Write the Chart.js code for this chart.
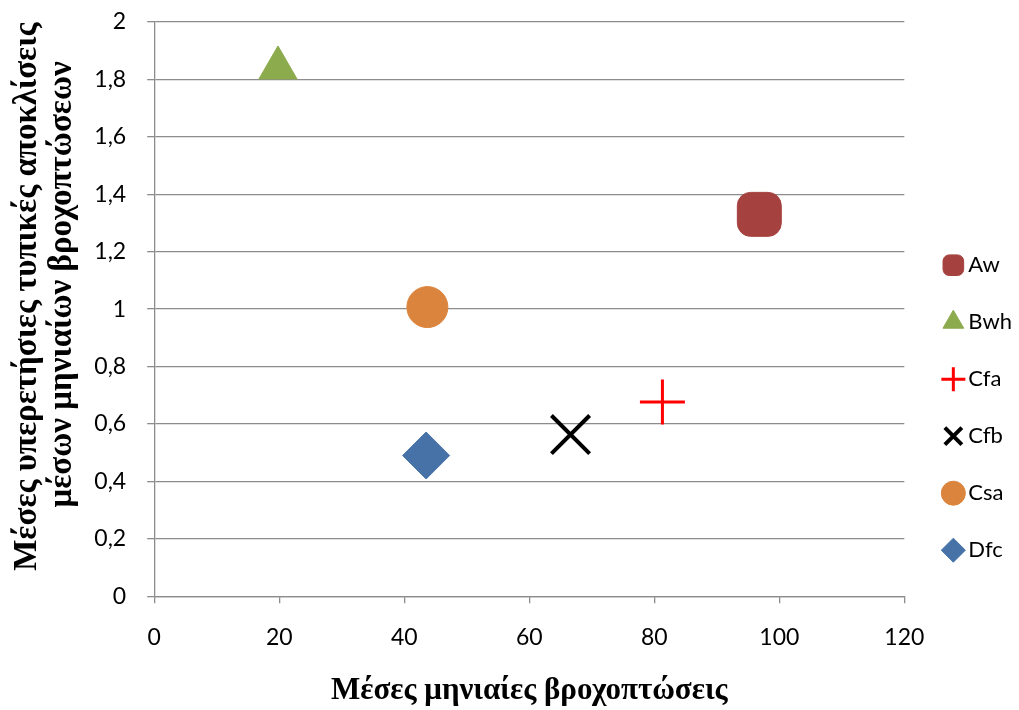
<!DOCTYPE html>
<html lang="el">
<head>
<meta charset="utf-8">
<title>Βροχοπτώσεις</title>
<script src="https://cdn.jsdelivr.net/npm/chart.js@4.4.1/dist/chart.umd.min.js"></script>
<style>
  html, body { margin: 0; padding: 0; background: #fff; }
  canvas { display: block; }
</style>
</head>
<body>
<canvas id="scatterChart" width="1019" height="710"></canvas>
<script>
"use strict";

// climate types and their values
const climates = ["Aw", "Bwh", "Cfa", "Cfb", "Csa", "Dfc"];
const rainfall = [96.8, 19.8, 81.3, 66.6, 43.7, 43.5];
const deviation = [1.33, 1.84, 0.676, 0.563, 1.007, 0.49];

const xTitle = "Μέσες μηνιαίες βροχοπτώσεις";
// leading spaces nudge the rotated lines upward, as in the original
const yTitle = ["   Μέσες υπερετήσιες τυπικές αποκλίσεις", "      μέσων μηνιαίων βροχοπτώσεων"];

// marker looks, one per climate type
const markerStyles = ["rectRounded", "triangle", "cross", "crossRot", "circle", "rectRot"];
const markerColors = ["#A5423F", "#8CAB4D", "#FF0000", "#000000", "#DB843D", "#4672A8"];
const markerSizes = [25.6, 22, 22.5, 27, 20.5, 23.5];
const markerLines = [1, 1, 3, 4, 1, 1];

const gridColor = "#8c8c8c";
const sans = "Lato, 'Liberation Sans', sans-serif";
const serif = "'Liberation Serif', 'DejaVu Serif', serif";
const tickFont = { family: sans, size: 23 };

function commaNumber(value) {
  return String(Number(value.toFixed(1))).replace(".", ",");
}

// push the legend a bit further from the plot, like the original
const legendShift = {
  id: "legendShift",
  afterLayout(chart) {
    chart.legend.left += 10;
    chart.legend.right += 10;
  },
};

const datasets = climates.map((name, i) => ({
  label: name,
  data: [{ x: rainfall[i], y: deviation[i] }],
  pointStyle: markerStyles[i],
  pointRadius: markerSizes[i],
  pointHoverRadius: markerSizes[i],
  pointBackgroundColor: markerColors[i],
  pointBorderColor: markerColors[i],
  pointBorderWidth: markerLines[i],
  backgroundColor: markerColors[i],
  borderColor: markerColors[i],
  borderWidth: markerLines[i],
  clip: false,
}));

const ctx = document.getElementById("scatterChart").getContext("2d");

new Chart(ctx, {
  type: "scatter",
  data: { datasets: datasets },
  plugins: [legendShift],
  options: {
    responsive: false,
    animation: false,
    devicePixelRatio: 1,
    layout: {
      autoPadding: false,
      padding: { left: 10, right: 7, top: 0, bottom: 0 },
    },
    plugins: {
      legend: {
        position: "right",
        align: "end",
        fullSize: false,
        labels: {
          usePointStyle: true,
          boxWidth: 8,
          boxHeight: 17,
          padding: 35,
          color: "#000",
          font: { family: sans, size: 22 },
        },
      },
      tooltip: { enabled: false },
    },
    scales: {
      x: {
        type: "linear",
        min: 0,
        max: 120,
        ticks: {
          stepSize: 20,
          color: "#000",
          font: tickFont,
          padding: 21,
          maxRotation: 0,
        },
        grid: {
          display: true,
          drawOnChartArea: false,
          drawTicks: true,
          tickLength: 7,
          color: gridColor,
          lineWidth: 1.3,
        },
        border: { color: gridColor, width: 1.3 },
        title: {
          display: true,
          text: xTitle,
          color: "#000",
          font: { family: serif, size: 31, weight: "bold" },
          padding: { top: 0, bottom: 0 },
        },
      },
      y: {
        type: "linear",
        min: 0,
        max: 2,
        afterFit: (scale) => {
          scale.paddingTop = 22;
        },
        ticks: {
          stepSize: 0.2,
          color: "#000",
          font: tickFont,
          padding: 21,
          callback: (value) => commaNumber(value),
        },
        grid: {
          drawOnChartArea: true,
          drawTicks: true,
          tickLength: 7,
          color: gridColor,
          lineWidth: 1.3,
        },
        border: { color: gridColor, width: 1.3 },
        title: {
          display: true,
          text: yTitle,
          color: "#000",
          font: { family: serif, size: 33, weight: "bold", lineHeight: 1.05 },
          padding: { top: 0, bottom: -6 },
        },
      },
    },
  },
});
</script>
</body>
</html>
